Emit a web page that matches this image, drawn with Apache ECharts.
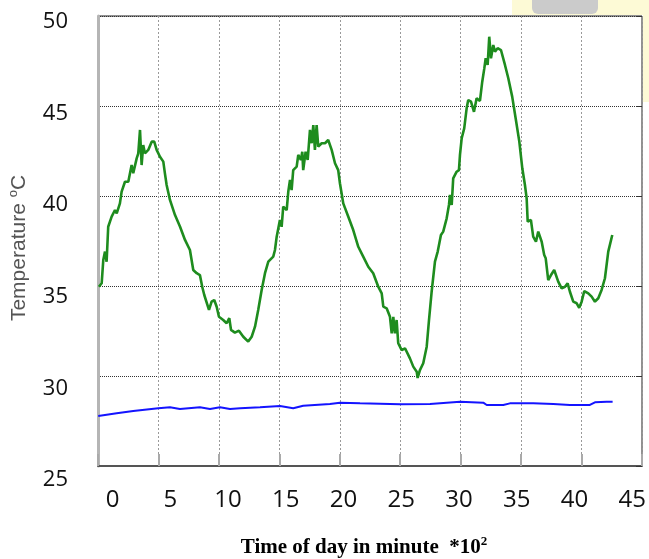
<!DOCTYPE html>
<html>
<head>
<meta charset="utf-8">
<script src="https://cdn.jsdelivr.net/npm/echarts@6/dist/echarts.min.js"></script>
<style>
html,body{margin:0;padding:0;background:#fff;}
#chart{width:649px;height:559px;}
</style>
</head>
<body>
<div id="chart"></div>
<script>
// Time of day (minutes x 10^2) and temperature (°C)
const greenTime = [-1.52,-1.28,-1.14,-0.99,-0.85,-0.71,-0.41,-0.12,0.03,0.31,
0.46,0.75,1.04,1.33,1.47,1.77,1.91,2.06,2.20,2.34,
2.49,2.64,2.78,3.08,3.30,3.51,3.80,4.09,4.23,4.38,
4.67,5.11,5.55,5.98,6.41,6.70,7.00,7.28,7.48,7.66,
7.81,8.07,8.30,8.53,8.74,8.94,9.31,9.61,9.84,9.99,
10.33,10.68,11.06,11.49,11.79,12.08,12.36,12.66,12.95,13.24,
13.67,13.82,13.97,14.25,14.40,14.54,14.84,14.98,15.13,15.27,
15.41,15.71,15.85,16.08,16.20,16.28,16.49,16.67,16.87,17.02,
17.16,17.30,17.45,17.59,17.89,18.18,18.46,18.76,19.05,19.33,
19.48,19.77,20.21,20.64,21.08,21.51,21.95,22.38,22.82,23.12,
23.26,23.55,23.84,23.99,24.13,24.27,24.42,24.56,24.71,24.86,
25.15,25.58,25.87,26.17,26.25,26.45,26.74,27.04,27.24,27.47,
27.76,28.00,28.28,28.48,28.78,28.98,29.07,29.22,29.35,29.65,
29.85,29.94,30.09,30.31,30.52,30.66,30.90,31.16,31.39,31.68,
31.88,32.06,32.18,32.35,32.49,32.64,32.84,32.99,33.22,33.51,
33.86,34.15,34.49,34.79,35.11,35.37,35.60,35.75,35.84,36.12,
36.32,36.56,36.76,37.06,37.28,37.41,37.63,37.87,38.15,38.50,
38.80,39.09,39.32,39.52,39.81,40.11,40.33,40.54,40.77,41.12,
41.41,41.70,41.99,42.28,42.57,42.86,43.21];
const greenTemp = [34.96,35.15,36.44,36.91,36.35,38.29,38.85,39.22,39.04,39.59,
40.24,40.79,40.79,41.72,41.26,42.09,42.37,43.67,41.72,42.83,
42.37,42.37,42.56,43.02,43.02,42.56,42.18,41.91,41.26,40.61,
39.78,38.94,38.29,37.56,37.00,35.89,35.71,35.61,34.96,34.50,
34.59,33.67,34.13,34.22,33.85,33.29,33.11,32.93,33.21,32.56,
32.41,32.52,32.18,31.91,32.18,32.74,33.67,34.78,35.71,36.35,
36.63,37.00,37.74,38.67,38.29,39.41,39.22,40.24,40.89,40.33,
41.44,41.63,42.28,42.00,42.46,41.44,42.46,42.00,43.67,42.93,
43.94,42.56,43.94,42.74,42.93,42.93,43.11,42.56,41.82,41.44,
40.71,39.59,38.85,38.11,37.18,36.63,36.07,35.71,34.96,34.59,
33.85,33.76,33.29,32.37,33.29,32.37,33.11,31.82,31.82,31.44,
31.54,30.98,30.52,30.24,29.89,30.33,30.71,31.63,33.11,34.68,
36.35,36.91,37.83,38.02,38.76,39.50,40.06,39.50,40.98,41.35,
41.44,42.28,43.21,43.76,44.87,45.33,45.24,44.68,45.43,45.28,
46.35,47.09,47.65,47.28,48.85,47.65,48.39,48.02,48.21,48.11,
47.28,46.54,45.52,44.32,43.02,41.54,40.61,39.87,38.57,38.67,
37.74,37.46,38.02,37.46,36.72,36.54,35.33,35.61,35.89,35.24,
34.87,34.96,35.15,34.68,34.13,34.04,33.79,34.13,34.72,34.59,
34.41,34.13,34.32,34.78,35.43,36.91,37.83];
const blueTime = [-1.58,0.03,1.47,3.65,4.67,5.54,7.28,8.16,9.03,9.90,
10.78,12.52,14.26,15.41,16.28,18.61,19.48,21.23,24.72,27.33,
29.95,31.97,32.27,33.71,34.29,36.32,38.07,39.52,41.26,41.70,42.72,43.24];
const blueTemp = [27.78,27.93,28.06,28.21,28.26,28.17,28.26,28.17,28.26,28.17,
28.21,28.26,28.33,28.21,28.35,28.44,28.52,28.48,28.43,28.44,
28.57,28.52,28.39,28.39,28.48,28.48,28.44,28.39,28.39,28.54,28.57,28.57];
const xTickLabels = [0,5,10,15,20,25,30,35,40,45];
const yTickLabels = [25,30,35,40,45,50];
const xTitle = 'Time of day in minute  *10';
const xTitleSup = '2';
const yTitleMain = 'Temperature ';
const yTitleSup = 'o';
const yTitleUnit = 'C';

const greenData = greenTime.map((t, i) => [t, greenTemp[i]]);
const blueData = blueTime.map((t, i) => [t, blueTemp[i]]);

const chart = echarts.init(document.getElementById('chart'), null, {renderer: 'canvas'});
const option = {
  animation: false,
  backgroundColor: '#ffffff',
  grid: [
    {left: 98, right: 7, top: 16, bottom: 93, show: true, borderColor: '#222', borderWidth: 1, backgroundColor: 'transparent'},
    {left: 112.6, right: 15.1, top: 21.7, bottom: 79, show: false}
  ],
  xAxis: [
    {gridIndex: 0, type: 'value', min: -1.6, max: 45.8, position: 'bottom',
     axisLine: {show: true, onZero: false, lineStyle: {color: '#555', width: 2}},
     axisTick: {show: false}, axisLabel: {show: false}, splitLine: {show: false}},
    {gridIndex: 0, type: 'value', min: 0, max: 9, interval: 1, position: 'bottom',
     axisLine: {show: false, onZero: false},
     axisTick: {show: true, inside: true, length: 12, lineStyle: {color: '#aaa', width: 2}},
     axisLabel: {show: false},
     splitLine: {show: true, lineStyle: {color: '#999', width: 1, type: [2, 2]}}},
    {gridIndex: 1, type: 'value', min: 0, max: 45, interval: 5,
     axisLine: {show: false, onZero: false}, axisTick: {show: false}, splitLine: {show: false},
     axisLabel: {show: true, margin: 8, fontSize: 24, fontFamily: 'Open Sans', color: '#111',
       customValues: xTickLabels}}
  ],
  yAxis: [
    {gridIndex: 0, type: 'value', min: 25, max: 50, interval: 5, position: 'left',
     axisLine: {show: true, onZero: false, lineStyle: {color: '#b5b5b5', width: 3}},
     axisTick: {show: false}, axisLabel: {show: false},
     splitLine: {show: true, lineStyle: {color: '#333', width: 1, type: [1, 1]}}},
    {gridIndex: 0, type: 'value', min: 25, max: 50, interval: 5, position: 'right',
     axisLine: {show: false, onZero: false},
     axisTick: {show: true, inside: true, length: 6, lineStyle: {color: '#333', width: 1}},
     axisLabel: {show: false}, splitLine: {show: false}},
    {gridIndex: 1, type: 'value', min: 25, max: 50, interval: 5,
     axisLine: {show: false, onZero: false}, axisTick: {show: false}, splitLine: {show: false},
     axisLabel: {show: true, margin: 44.6, fontSize: 22, fontFamily: 'Open Sans', color: '#111',
       customValues: yTickLabels}}
  ],
  series: [
    {type: 'line', xAxisIndex: 0, yAxisIndex: 0, data: greenData, showSymbol: false, symbol: 'none',
     lineStyle: {color: '#1e8c1e', width: 2.6}, z: 5},
    {type: 'line', xAxisIndex: 0, yAxisIndex: 0, data: blueData, showSymbol: false, symbol: 'none',
     lineStyle: {color: '#1414ff', width: 2}, z: 5}
  ],
  graphic: [
    {type: 'rect', shape: {x: 512, y: 0, width: 137, height: 15}, style: {fill: '#fdfad6'}, z: -10},
    {type: 'rect', shape: {x: 643, y: 0, width: 6, height: 102}, style: {fill: '#fdfad6'}, z: -10},
    {type: 'rect', shape: {x: 532, y: 0, width: 66, height: 14, r: [0, 0, 6, 6]}, style: {fill: '#cbcbcb'}, z: -9},
    {type: 'text', x: 364, y: 548,
     style: {text: '{a|' + xTitle + '}{s|' + xTitleSup + '}', align: 'center', verticalAlign: 'middle',
       rich: {
         a: {fontFamily: 'Liberation Serif', fontWeight: 'bold', fontSize: 21, fill: '#000', color: '#000', lineHeight: 26},
         s: {fontFamily: 'Liberation Serif', fontWeight: 'bold', fontSize: 13, fill: '#000', color: '#000', verticalAlign: 'top', lineHeight: 26}
       }}},
    {type: 'text', x: 19, y: 248, rotation: Math.PI / 2,
     style: {text: '{a|' + yTitleMain + '}{s|' + yTitleSup + '}{a|' + yTitleUnit + '}', align: 'center', verticalAlign: 'middle',
       rich: {
         a: {fontFamily: 'Liberation Sans', fontSize: 21, fill: '#555', color: '#555', lineHeight: 24},
         s: {fontFamily: 'Liberation Sans', fontSize: 13, fill: '#555', color: '#555', verticalAlign: 'top', lineHeight: 24}
       }}}
  ]
};
chart.setOption(option);
</script>
</body>
</html>
